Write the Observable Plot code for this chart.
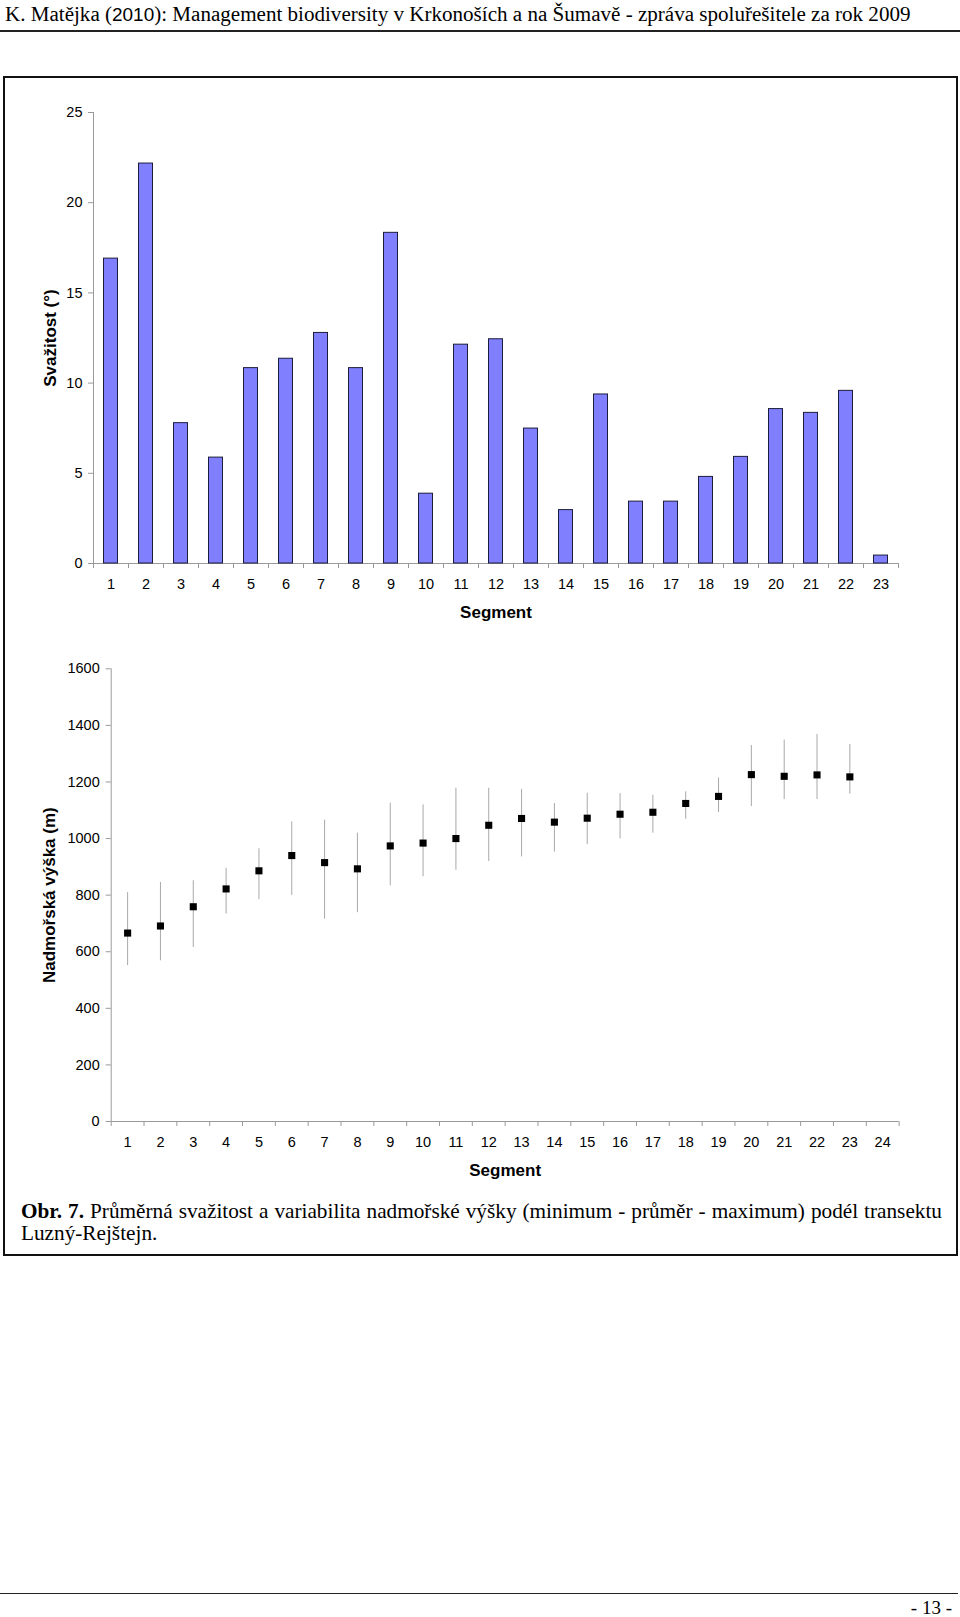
<!DOCTYPE html>
<html>
<head>
<meta charset="utf-8">
<script src="https://cdn.jsdelivr.net/npm/d3@7"></script>
<script src="https://cdn.jsdelivr.net/npm/@observablehq/plot@0.6"></script>
<style>
  html, body { margin: 0; padding: 0; background: #fff; }
  #page { position: relative; width: 960px; height: 1617px; background: #fff; overflow: hidden; }
  .abs { position: absolute; }
  #header { left: 5px; top: 0; font-family: "Liberation Serif", "Times New Roman", serif; font-size: 21px; line-height: 28px; white-space: nowrap; color: #000; }
  #header .sans { font-family: "Liberation Sans", Arial, sans-serif; font-size: 0.9em; }
  #hline { left: 0; top: 30px; width: 960px; height: 0; border-top: 2px solid #222; }
  #frame { left: 3px; top: 76px; width: 955px; height: 1180px; border: 2px solid #111; box-sizing: border-box; }
  #caption { left: 21px; top: 1200px; width: 921px; font-family: "Liberation Serif", "Times New Roman", serif; font-size: 19px; line-height: 22px; color: #000; }
  #caption .l1 { white-space: nowrap; }
  #caption .l1.just { text-align: justify; text-align-last: justify; }
  #fline { left: 0; top: 1593px; width: 958px; height: 0; border-top: 1px solid #222; }
  #pnum { right: 8px; top: 1597px; font-family: "Liberation Serif", "Times New Roman", serif; font-size: 19px; line-height: 22px; }
  #chartTop, #chartBottom { left: 0; }
  #chartTop { top: 90px; }
  #chartBottom { top: 645px; }
</style>
</head>
<body>
<div id="page">
  <div id="header" class="abs"><span id="htext">K. Matějka (<span class="sans">2010</span>): Management biodiversity v Krkonoších a na Šumavě - zpráva spoluřešitele za rok 2009</span></div>
  <div id="hline" class="abs"></div>
  <div id="frame" class="abs"></div>
  <div id="chartTop" class="abs"></div>
  <div id="chartBottom" class="abs"></div>
  <div id="caption" class="abs">
    <div class="l1" id="cline"><span id="ctext"><b>Obr. 7.</b> Průměrná svažitost a variabilita nadmořské výšky (minimum - průměr - maximum) podél transektu</span></div>
    <div>Luzný-Rejštejn.</div>
  </div>
  <div id="fline" class="abs"></div>
  <div id="pnum" class="abs">- 13 -</div>
</div>
<script>
// ---- data ----
const slopeSegments = [1,2,3,4,5,6,7,8,9,10,11,12,13,14,15,16,17,18,19,20,21,22,23];
const slopeValues = [16.9, 22.17, 7.78, 5.87, 10.83, 11.35, 12.78, 10.83, 18.33, 3.87, 12.13, 12.43, 7.48, 2.96, 9.37, 3.43, 3.43, 4.8, 5.91, 8.56, 8.35, 9.57, 0.44];
const slopeTicks = [0, 5, 10, 15, 20, 25];

const altSegments = [1,2,3,4,5,6,7,8,9,10,11,12,13,14,15,16,17,18,19,20,21,22,23];
const altMean = [666, 691, 759, 822, 886, 940, 915, 893, 974, 984, 1000, 1047, 1071, 1058, 1072, 1086, 1093, 1124, 1149, 1226, 1220, 1225, 1218];
const altMin  = [551, 568, 615, 733, 784, 799, 715, 738, 833, 865, 888, 919, 935, 952, 979, 999, 1019, 1068, 1092, 1113, 1138, 1138, 1157];
const altMax  = [809, 845, 851, 895, 964, 1059, 1065, 1019, 1125, 1119, 1178, 1178, 1174, 1124, 1160, 1159, 1153, 1165, 1214, 1329, 1348, 1368, 1333];
const altTicks = [0, 200, 400, 600, 800, 1000, 1200, 1400, 1600];
const altXLabels = [1,2,3,4,5,6,7,8,9,10,11,12,13,14,15,16,17,18,19,20,21,22,23,24];

const slopeTitle = "Svažitost (°)";
const altTitle = "Nadmořská výška (m)";
const xTitle = "Segment";

// ---- fit header / caption text widths ----
function fitWidth(spanId, holderEl, target) {
  const span = document.getElementById(spanId);
  const w = span.getBoundingClientRect().width;
  const fs = parseFloat(getComputedStyle(holderEl).fontSize);
  holderEl.style.fontSize = (fs * target / w) + "px";
}
fitWidth("htext", document.getElementById("header"), 906);
fitWidth("ctext", document.getElementById("caption"), 912);
document.getElementById("cline").classList.add("just");

// ---- tables ----
const slopeData = slopeSegments.map((s, i) => ({s, v: slopeValues[i]}));
const altData = altSegments.map((s, i) => ({s, mean: altMean[i], min: altMin[i], max: altMax[i]}));
const boundaries = n => d3.range(0, n + 1).map(k => k + 0.5);

const axisGray = "#9a9a9a";
const baseStyle = {fontFamily: "'Liberation Sans', Arial, sans-serif", fontSize: "14.5px", color: "#000", background: "transparent", overflow: "visible"};
const plain = d => String(d);

// ---- top chart: slope bars ----
const slopeChart = Plot.plot({
  width: 960,
  height: 540,
  marginTop: 22,
  marginBottom: 67,
  marginLeft: 93,
  marginRight: 62,
  style: baseStyle,
  x: {type: "linear", domain: [0.5, slopeSegments.length + 0.5]},
  y: {type: "linear", domain: [0, 25]},
  marks: [
    Plot.ruleX([0.5], {stroke: axisGray}),
    Plot.ruleY([0], {stroke: axisGray}),
    Plot.axisY({ticks: slopeTicks, tickFormat: plain, tickSize: 5, tickPadding: 6, stroke: axisGray, fill: "#000", label: null}),
    Plot.axisX({ticks: boundaries(slopeSegments.length), tickSize: 5, tickFormat: () => "", stroke: axisGray, label: null}),
    Plot.axisX({ticks: slopeSegments, tickFormat: plain, tickSize: 0, tickPadding: 15, fill: "#000", label: null}),
    Plot.rectY(slopeData, {x1: d => d.s - 0.2, x2: d => d.s + 0.2, y: "v", fill: "#8080ff", stroke: "#1c1c3c", strokeWidth: 1}),
    Plot.text([xTitle], {text: d => d, frameAnchor: "bottom", textAnchor: "middle", lineAnchor: "middle", dy: 49, fontWeight: "bold", fontSize: 17}),
    Plot.text([slopeTitle], {text: d => d, frameAnchor: "left", textAnchor: "middle", lineAnchor: "middle", rotate: -90, dx: -43, fontWeight: "bold", fontSize: 17})
  ]
});
document.getElementById("chartTop").appendChild(slopeChart);

// ---- bottom chart: altitude min-mean-max ----
const altChart = Plot.plot({
  width: 960,
  height: 545,
  marginTop: 23.3,
  marginBottom: 69,
  marginLeft: 110.7,
  marginRight: 61.4,
  style: baseStyle,
  x: {type: "linear", domain: [0.5, altXLabels.length + 0.5]},
  y: {type: "linear", domain: [0, 1600]},
  marks: [
    Plot.ruleX([0.5], {stroke: axisGray}),
    Plot.ruleY([0], {stroke: axisGray}),
    Plot.axisY({ticks: altTicks, tickFormat: plain, tickSize: 5, tickPadding: 6.5, stroke: axisGray, fill: "#000", label: null}),
    Plot.axisX({ticks: boundaries(altXLabels.length), tickSize: 5, tickFormat: () => "", stroke: axisGray, label: null}),
    Plot.axisX({ticks: altXLabels, tickFormat: plain, tickSize: 0, tickPadding: 15, fill: "#000", label: null}),
    Plot.ruleX(altData, {x: "s", y1: "min", y2: "max", stroke: "#a8a8a8", strokeWidth: 1}),
    Plot.dot(altData, {x: "s", y: "mean", symbol: "square", r: 4, fill: "#000", stroke: null}),
    Plot.text([xTitle], {text: d => d, frameAnchor: "bottom", textAnchor: "middle", lineAnchor: "middle", dy: 49, fontWeight: "bold", fontSize: 17}),
    Plot.text([altTitle], {text: d => d, frameAnchor: "left", textAnchor: "middle", lineAnchor: "middle", rotate: -90, dx: -62, fontWeight: "bold", fontSize: 17})
  ]
});
document.getElementById("chartBottom").appendChild(altChart);
</script>
</body>
</html>
